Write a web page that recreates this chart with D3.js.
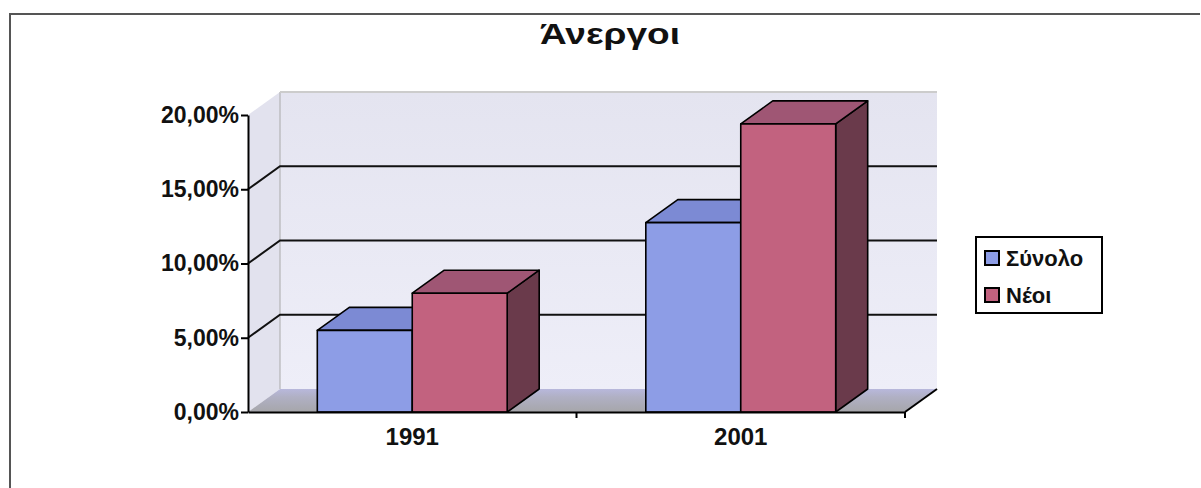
<!DOCTYPE html>
<head>
<meta charset="utf-8">
<style>
body { margin: 0; background: #fff; }
text { font-family: "Liberation Sans", Arial, sans-serif; font-weight: bold; fill: #111; }
.axis path, .axis line { stroke: #000; stroke-width: 2; fill: none; }
.grid { stroke: #111; stroke-width: 2; fill: none; }
.bar path { stroke: #000; stroke-width: 1.6; stroke-linejoin: round; }
</style>
<script src="https://d3js.org/d3.v7.min.js"></script>
</head>
<body>
<div id="chart"></div>
<script>

var categories = ["1991", "2001"];
var seriesNames = ["Σύνολο", "Νέοι"];
var synolo = [0.055, 0.1275];
var neoi = [0.080, 0.194];
var yTicks = [0, 0.05, 0.10, 0.15, 0.20];

var colors = {
  "Σύνολο": {front: "#8d9de6", top: "#7c8ad4", side: "#5a6299"},
  "Νέοι": {front: "#c2627f", top: "#9f5674", side: "#6a3a4b"}
};

var W = 1201, H = 488;
var plotLeft = 248, plotRight = 905, plotTop = 115, plotBottom = 412;
var dx = 32, dy = -23;   // 3d depth offset

var svg = d3.select('#chart').append('svg')
  .attr('width', W)
  .attr('height', H);

var defs = svg.append('defs');
var gw = defs.append('linearGradient').attr('id', 'wall').attr('x1', 0).attr('y1', 0).attr('x2', 0).attr('y2', 1);
gw.append('stop').attr('offset', 0).attr('stop-color', '#e4e4f0');
gw.append('stop').attr('offset', 1).attr('stop-color', '#eeeef8');
var gf = defs.append('linearGradient').attr('id', 'floor').attr('x1', 0).attr('y1', 0).attr('x2', 0).attr('y2', 1);
gf.append('stop').attr('offset', 0).attr('stop-color', '#b8b8dc');
gf.append('stop').attr('offset', 0.35).attr('stop-color', '#b0b0c4');
gf.append('stop').attr('offset', 1).attr('stop-color', '#a6a6aa');

// outer frame
svg.append('path')
  .attr('d', 'M10,488 L10,14 L1200,14')
  .attr('fill', 'none').attr('stroke', '#555').attr('stroke-width', 2);

var y = d3.scaleLinear().domain([0, 0.20]).range([plotBottom, plotTop]);
var x0 = d3.scaleBand().domain(categories).range([plotLeft, plotRight]);
var x1 = d3.scaleBand().domain(seriesNames).range([0, x0.bandwidth()]).paddingInner(0).paddingOuter(0.73);

var pct = d3.formatLocale({decimal: ",", thousands: ".", grouping: [3], currency: ["", "€"]}).format(".2%");

function pts(a) { return 'M' + a.map(function(p) { return p[0] + ',' + p[1]; }).join('L') + 'Z'; }

// walls and floor
svg.append('path')
  .attr('d', pts([[plotLeft + dx, y(0.2) + dy], [plotRight + dx, y(0.2) + dy], [plotRight + dx, y(0) + dy], [plotLeft + dx, y(0) + dy]]))
  .attr('fill', 'url(#wall)');
svg.append('path')
  .attr('d', pts([[plotLeft, y(0.2)], [plotLeft + dx, y(0.2) + dy], [plotLeft + dx, y(0) + dy], [plotLeft, y(0)]]))
  .attr('fill', '#e2e2ee');
svg.append('path')
  .attr('d', pts([[plotLeft, y(0)], [plotRight, y(0)], [plotRight + dx, y(0) + dy], [plotLeft + dx, y(0) + dy]]))
  .attr('fill', 'url(#floor)');
svg.append('line')
  .attr('x1', plotLeft + dx).attr('x2', plotLeft + dx)
  .attr('y1', y(0.2) + dy).attr('y2', y(0) + dy)
  .attr('stroke', '#aaa').attr('stroke-width', 1);
svg.append('line')
  .attr('x1', plotLeft + dx).attr('x2', plotRight + dx)
  .attr('y1', y(0.2) + dy).attr('y2', y(0.2) + dy)
  .attr('stroke', '#ccc').attr('stroke-width', 2);

// gridlines
var grid = yTicks.filter(function(d) { return d > 0 && d < 0.2; });
svg.selectAll('.grid')
  .data(grid)
  .enter().append('path')
    .attr('class', 'grid')
    .attr('d', function(d) {
      return 'M' + plotLeft + ',' + y(d) + 'L' + (plotLeft + dx) + ',' + (y(d) + dy) + 'L' + (plotRight + dx) + ',' + (y(d) + dy);
    });

// bars
var rows = categories.map(function(c, i) {
  return [{cat: c, s: "Σύνολο", v: synolo[i]}, {cat: c, s: "Νέοι", v: neoi[i]}];
});
var flat = [].concat.apply([], rows);

var bar = svg.selectAll('.bar')
  .data(flat)
  .enter().append('g')
    .attr('class', 'bar');

bar.each(function(d) {
  var g = d3.select(this);
  var xa = x0(d.cat) + x1(d.s), xb = xa + x1.bandwidth();
  var yt = y(d.v), yb = y(0);
  g.append('path').attr('fill', colors[d.s].side)
    .attr('d', pts([[xb, yt], [xb + dx, yt + dy], [xb + dx, yb + dy], [xb, yb]]));
  g.append('path').attr('fill', colors[d.s].top)
    .attr('d', pts([[xa, yt], [xa + dx, yt + dy], [xb + dx, yt + dy], [xb, yt]]));
  g.append('path').attr('fill', colors[d.s].front)
    .attr('d', pts([[xa, yt], [xb, yt], [xb, yb], [xa, yb]]));
});

// floor right edge
svg.append('line')
  .attr('x1', plotRight).attr('y1', y(0))
  .attr('x2', plotRight + dx).attr('y2', y(0) + dy)
  .attr('stroke', '#000').attr('stroke-width', 2);

// y axis
var yAxis = svg.append('g')
  .attr('class', 'axis')
  .attr('transform', 'translate(' + plotLeft + ',0)')
  .call(d3.axisLeft(y).tickValues(yTicks).tickSize(7).tickSizeOuter(0).tickPadding(2).tickFormat(pct));
yAxis.selectAll('text').style('font-size', '23px').attr('fill', '#111');

// x axis
var xAxis = svg.append('g')
  .attr('class', 'axis')
  .attr('transform', 'translate(0,' + plotBottom + ')')
  .call(d3.axisBottom(x0).tickSize(0).tickSizeOuter(0).tickPadding(16));
xAxis.selectAll('text').style('font-size', '24px').attr('fill', '#111');
xAxis.selectAll('.sep')
  .data(categories)
  .enter().append('line')
    .attr('x1', function(d) { return x0(d) + x0.bandwidth(); })
    .attr('x2', function(d) { return x0(d) + x0.bandwidth(); })
    .attr('y1', 0).attr('y2', 6);

// title
svg.append('text')
  .attr('x', 610).attr('y', 44)
  .attr('text-anchor', 'middle')
  .attr('textLength', 140)
  .attr('lengthAdjust', 'spacingAndGlyphs')
  .style('font-size', '30px')
  .text('Άνεργοι');

// legend
var legend = svg.append('g').attr('transform', 'translate(976,237)');
legend.append('rect')
  .attr('width', 126).attr('height', 76)
  .attr('fill', '#fff').attr('stroke', '#000').attr('stroke-width', 2);
var item = legend.selectAll('.item')
  .data(seriesNames)
  .enter().append('g')
    .attr('transform', function(d, i) { return 'translate(9,' + (14 + i * 37) + ')'; });
item.append('rect')
  .attr('width', 14).attr('height', 14)
  .attr('fill', function(d) { return colors[d].front; })
  .attr('stroke', '#000').attr('stroke-width', 2);
item.append('text')
  .attr('x', 21).attr('y', 15)
  .style('font-size', '22px')
  .text(function(d) { return d; });

</script>
</body>
